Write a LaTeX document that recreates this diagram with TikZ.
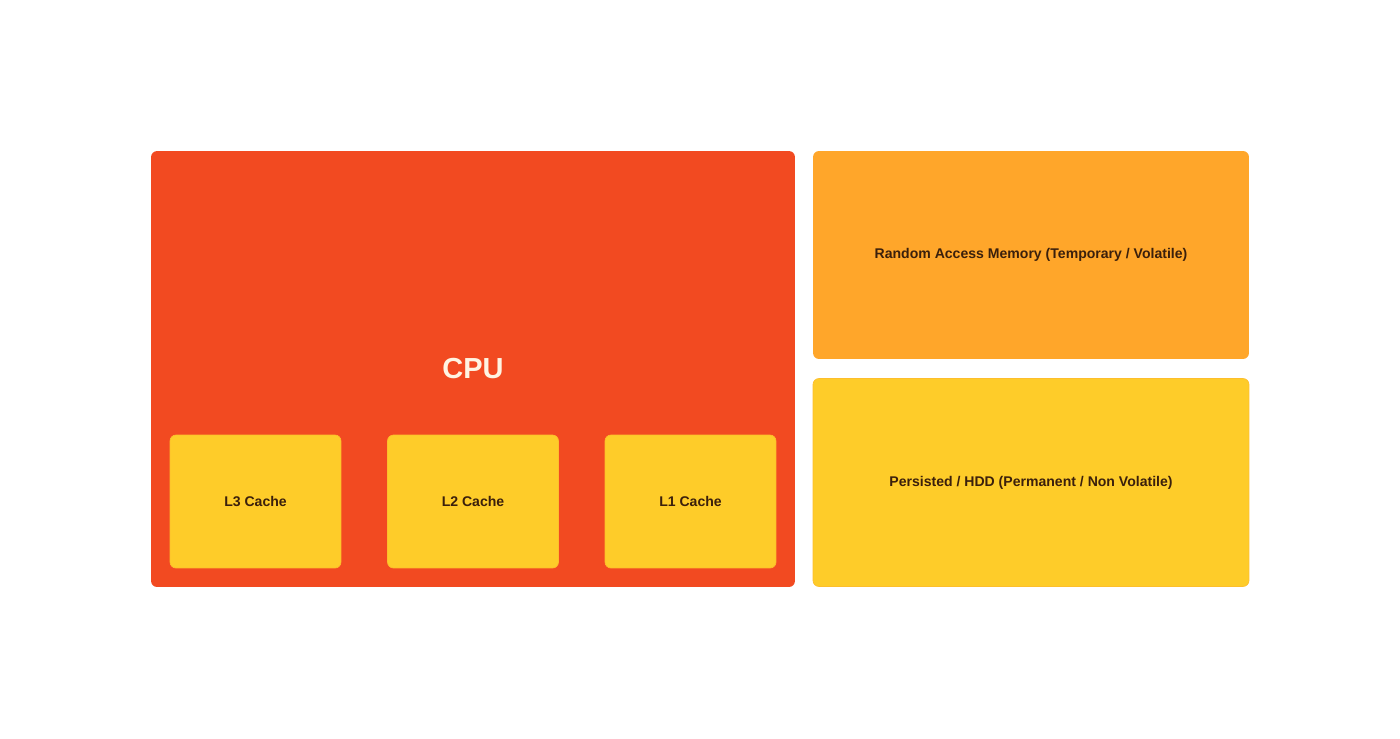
\documentclass[tikz,border=0pt]{standalone}
\usepackage{fontspec}
\setsansfont{Liberation Sans}
\usetikzlibrary{positioning}

\definecolor{cpured}{HTML}{F24A21}
\definecolor{ramorange}{HTML}{FFA62A}
\definecolor{diskyellow}{HTML}{FECC29}
\definecolor{edgeyellow}{HTML}{FDBE2C}
\definecolor{labelbrown}{HTML}{3B200C}
\definecolor{cpulabel}{HTML}{FFF4E2}

\tikzset{
	unit/.style={rectangle,rounded corners=3.4pt,inner sep=0pt,font=\sffamily\bfseries\fontsize{8}{10}\selectfont,text=labelbrown},
	cache/.style={unit,fill=diskyellow,draw=edgeyellow,line width=0.4pt,minimum width=3.42cm,minimum height=2.66cm},
	memory/.style={unit,minimum width=8.72cm,minimum height=4.16cm}
}

\begin{document}
\begin{tikzpicture}[x=0.02cm,y=-0.02cm]
	\useasboundingbox[fill=white] (0,0) rectangle (1400,738);
	\node[unit,fill=cpured,minimum width=12.88cm,minimum height=8.72cm,text=cpulabel,font=\sffamily\bfseries\fontsize{16.5}{20}\selectfont] (cpu) at (473,369) {CPU};
	\node[cache] (l3) at (255.5,501.5) {L3 Cache};
	\node[cache] (l2) at (473,501.5) {L2 Cache};
	\node[cache] (l1) at (690.5,501.5) {L1 Cache};
	\node[memory,fill=ramorange] (ram) at (1031,255) {Random Access Memory (Temporary / Volatile)};
	\node[memory,fill=diskyellow,draw=edgeyellow,line width=0.4pt] (hdd) at (1031,482.5) {Persisted / HDD (Permanent / Non Volatile)};
\end{tikzpicture}
\end{document}
